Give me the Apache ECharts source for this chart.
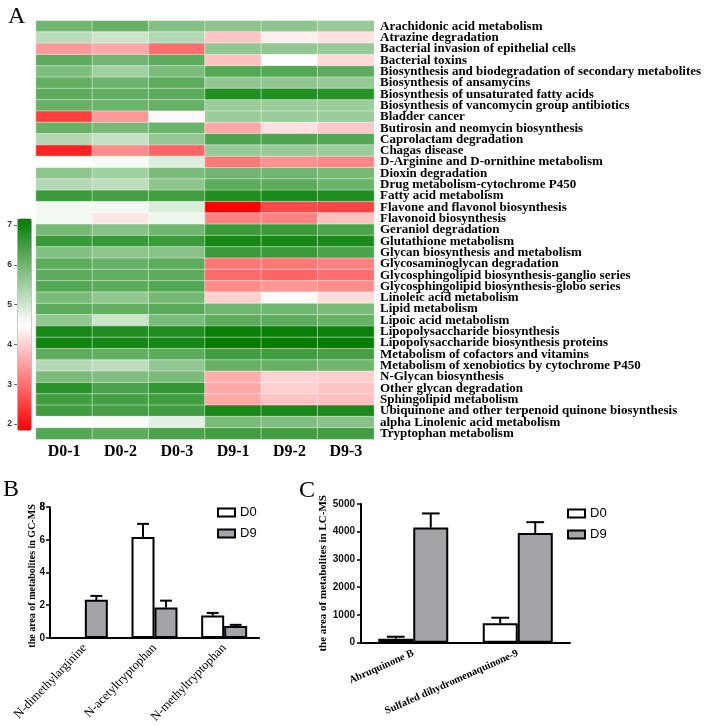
<!DOCTYPE html>
<html>
<head>
<meta charset="utf-8">
<script src="https://cdn.jsdelivr.net/npm/echarts@6/dist/echarts.min.js"></script>
<style>
html,body{margin:0;padding:0;background:#fff;}
#chart{width:709px;height:726px;}
</style>
</head>
<body>
<div id="chart"></div>
<script>
// ---------- Panel A data ----------
const samples = ['D0-1','D0-2','D0-3','D9-1','D9-2','D9-3'];
const pathways = [
 'Arachidonic acid metabolism','Atrazine degradation','Bacterial invasion of epithelial cells','Bacterial toxins',
 'Biosynthesis and biodegradation of secondary metabolites','Biosynthesis of ansamycins','Biosynthesis of unsaturated fatty acids',
 'Biosynthesis of vancomycin group antibiotics','Bladder cancer','Butirosin and neomycin biosynthesis','Caprolactam degradation',
 'Chagas disease','D-Arginine and D-ornithine metabolism','Dioxin degradation','Drug metabolism-cytochrome P450',
 'Fatty acid metabolism','Flavone and flavonol biosynthesis','Flavonoid biosynthesis','Geraniol degradation',
 'Glutathione metabolism','Glycan biosynthesis and metabolism','Glycosaminoglycan degradation',
 'Glycosphingolipid biosynthesis-ganglio series','Glycosphingolipid biosynthesis-globo series','Linoleic acid metabolism',
 'Lipid metabolism','Lipoic acid metabolism','Lipopolysaccharide biosynthesis','Lipopolysaccharide biosynthesis proteins',
 'Metabolism of cofactors and vitamins','Metabolism of xenobiotics by cytochrome P450','N-Glycan biosynthesis',
 'Other glycan degradation','Sphingolipid metabolism','Ubiquinone and other terpenoid quinone biosynthesis',
 'alpha Linolenic acid metabolism','Tryptophan metabolism'
];
const d0_1 = [6.0,5.25,3.45,6.2,5.85,6.15,6.2,6.1,2.5,6.1,5.3,2.2,4.5,5.7,5.3,6.55,4.65,4.65,5.95,6.6,5.8,6.2,6.2,6.3,5.9,6.2,5.65,6.95,7.0,6.2,5.3,5.9,6.75,6.5,6.5,4.5,6.3];
const d0_2 = [6.1,5.05,3.6,6.0,5.5,6.05,6.15,6.05,3.45,5.9,5.1,3.3,4.6,5.5,5.2,6.45,4.65,4.25,5.75,6.6,5.7,6.1,6.15,6.2,5.65,6.15,5.05,6.85,6.95,6.15,5.2,5.85,6.4,6.45,6.45,4.6,6.2];
const d0_3 = [5.8,5.3,3.0,6.2,5.9,6.2,6.2,6.1,4.45,6.05,5.65,2.9,4.85,5.9,5.7,6.5,4.9,4.7,6.0,6.55,5.75,6.2,6.2,6.3,5.95,6.25,5.9,6.85,6.95,6.2,5.65,5.9,6.65,6.5,6.5,4.8,6.4];
const d9_1 = [5.7,3.9,5.65,3.85,6.3,5.65,6.8,5.55,5.55,3.6,6.35,5.6,3.1,6.0,6.2,6.85,1.85,3.2,6.55,6.95,6.55,3.1,2.95,3.3,4.0,6.0,6.2,7.1,7.17,6.5,6.1,3.65,3.6,3.6,6.95,5.9,6.5];
const d9_2 = [5.7,4.35,5.65,4.5,6.3,5.65,6.8,5.55,5.55,4.2,6.35,5.6,3.35,6.0,6.2,6.9,2.6,3.2,6.55,6.95,6.55,3.1,2.9,3.4,4.45,6.0,6.2,7.1,7.17,6.5,6.1,4.05,4.0,3.9,6.95,5.85,6.5];
const d9_3 = [5.6,4.2,5.6,4.1,6.2,5.6,6.75,5.55,5.55,3.95,6.3,5.55,3.25,5.95,6.05,6.85,2.55,3.85,6.4,6.9,6.4,3.2,3.0,3.3,4.15,5.9,6.1,7.05,7.15,6.45,6.0,4.0,3.9,3.85,6.9,5.75,6.5];
const colorMin = 1.85, colorMax = 7.17;
const colorTicks = [2,3,4,5,6,7];

// ---------- Panel B data ----------
const gcCats = ['N-dimethylarginine','N-acetyltryptophan','N-methyltryptophan'];
const gcD0 = [0, 6.18, 1.37];
const gcD0Err = [0, 0.80, 0.16];
const gcD9 = [2.33, 1.86, 0.73];
const gcD9Err = [0.24, 0.42, 0.07];
const gcTicks = [0, 2, 4, 6, 8];
const gcTopTick = [8];
const gcTitle = 'the area of metabolites in GC-MS';

// ---------- Panel C data ----------
const lcCats = ['Abruquinone B','Sulfafed dihydromenaquinone-9'];
const lcD0 = [145, 700];
const lcD0Err = [70, 200];
const lcD9 = [4150, 3955];
const lcD9Err = [510, 390];
const lcTitle = 'the area of metabolites in LC-MS';

// ---------- build ----------
const cols = [d0_1,d0_2,d0_3,d9_1,d9_2,d9_3];
const heatData = [];
cols.forEach((col, xi) => col.forEach((v, yi) => heatData.push([xi, yi, v])));

function errData(vals, errs, side){
  const out = [];
  vals.forEach((v,i)=>{ if (v > 0) out.push([i, v, errs[i], side]); });
  return out;
}
function errRender(frac, capFrac){
  return function(params, api){
    const cat = api.value(0), val = api.value(1), err = api.value(2), side = api.value(3);
    const band = api.size([1,0])[0];
    const base = api.coord([cat, val]);
    const top = api.coord([cat, val + err]);
    const x = base[0] + side * band * frac;
    const cap = band * capFrac / 2;
    const st = {stroke:'#000', lineWidth:2};
    return {type:'group', children:[
      {type:'line', shape:{x1:x, y1:base[1], x2:x, y2:top[1]}, style:st},
      {type:'line', shape:{x1:x-cap, y1:top[1], x2:x+cap, y2:top[1]}, style:st}
    ]};
  };
}

const SERIF = '"Liberation Serif","Times New Roman",serif';
const SANS = '"Liberation Sans",Arial,sans-serif';
const D9GREY = '#a4a4a8';

const chart = echarts.init(document.getElementById('chart'), null, {renderer:'canvas'});
chart.setOption({
  backgroundColor:'#fff',
  animation:false,
  title:[
    {text:'A', left:3, top:0, textStyle:{fontFamily:SERIF, fontWeight:'normal', fontSize:24, color:'#000'}},
    {text:'B', left:3, top:478, padding:0, textStyle:{fontFamily:SERIF, fontWeight:'normal', fontSize:24, color:'#000'}},
    {text:'C', left:294, top:474, textStyle:{fontFamily:SERIF, fontWeight:'normal', fontSize:24, color:'#000'}}
  ],
  graphic:[
    {type:'text', x:32, y:576, rotation:Math.PI/2,
     style:{text:gcTitle, textAlign:'center', textVerticalAlign:'middle',
            font:'bold 10px "Liberation Serif","Times New Roman",serif', fill:'#000'}}
  ],
  grid:[
    {left:36, top:20.7, width:338, height:418.5},
    {left:17, top:218.3, width:14, height:211.7},
    {left:50, top:507.2, width:209, height:137.1},
    {left:361, top:504, width:209, height:138.7}
  ],
  visualMap:{
    type:'continuous', min:colorMin, max:colorMax, seriesIndex:0, calculable:false,
    orient:'vertical', left:17, top:218.3, itemWidth:14, itemHeight:211.7, padding:0,
    text:null, showLabel:false, hoverLink:false,
    borderColor:'#bbb', borderWidth:1,
    inRange:{color:['#ff0000','#ffffff','#007d00']}
  },
  legend:[
    {data:['D0','D9'], orient:'vertical', left:212, top:501, itemWidth:17, itemHeight:8, itemGap:8, icon:'rect',
     textStyle:{fontFamily:SANS, fontSize:13, color:'#000'}, selectedMode:false,
     itemStyle:{borderColor:'#000', borderWidth:2}},
    {data:['D0 ','D9 '], orient:'vertical', left:562, top:502, itemWidth:17, itemHeight:8, itemGap:8, icon:'rect',
     textStyle:{fontFamily:SANS, fontSize:13, color:'#000'}, selectedMode:false,
     itemStyle:{borderColor:'#000', borderWidth:2}}
  ],
  xAxis:[
    {gridIndex:0, type:'category', data:samples, position:'bottom',
     axisLine:{show:false}, axisTick:{show:false},
     axisLabel:{fontFamily:SERIF, fontWeight:'bold', fontSize:16, color:'#000', margin:5}},
    {gridIndex:1, type:'value', show:false},
    {gridIndex:2, type:'category', data:gcCats,
     axisLine:{lineStyle:{color:'#000', width:2}},
     axisTick:{alignWithLabel:true, length:4, lineStyle:{color:'#000', width:1.5}},
     axisLabel:{rotate:46, fontFamily:SERIF, fontSize:12.5, color:'#000', margin:8, interval:0}},
    {gridIndex:3, type:'category', data:lcCats,
     axisLine:{lineStyle:{color:'#000', width:2}},
     axisTick:{alignWithLabel:true, length:4, lineStyle:{color:'#000', width:1.5}},
     axisLabel:{rotate:24, fontFamily:SERIF, fontWeight:'bold', fontSize:10.5, color:'#000', margin:10, interval:0}}
  ],
  yAxis:[
    {gridIndex:0, type:'category', data:pathways, inverse:true, position:'right',
     axisLine:{show:false}, axisTick:{show:false},
     axisLabel:{fontFamily:SERIF, fontWeight:'bold', fontSize:13, color:'#000', margin:6, interval:0}},
    {gridIndex:1, type:'value', min:colorMin, max:colorMax, position:'left',
     axisLine:{show:false}, splitLine:{show:false},
     axisTick:{show:true, length:3, customValues:colorTicks, lineStyle:{color:'#666'}},
     axisLabel:{customValues:colorTicks, fontFamily:SANS, fontWeight:'bold', fontSize:8.5, color:'#333', margin:5}},
    {gridIndex:2, type:'value', min:0, max:8, interval:2, position:'left',
     axisLine:{show:true, lineStyle:{color:'#000', width:2}}, splitLine:{show:false},
     axisTick:{show:true, length:4, customValues:gcTicks, lineStyle:{color:'#000', width:1.5}},
     axisLabel:{customValues:gcTicks, showMaxLabel:true, fontFamily:SANS, fontWeight:'bold', fontSize:10, color:'#111', margin:5}},
    {gridIndex:3, type:'value', min:0, max:5000, interval:1000,
     axisLine:{show:true, lineStyle:{color:'#000', width:2}}, splitLine:{show:false},
     axisTick:{show:true, length:4, lineStyle:{color:'#000', width:1.5}},
     axisLabel:{fontFamily:SANS, fontWeight:'bold', fontSize:10, color:'#111', margin:6, showMaxLabel:true,
                formatter:function(v){ return String(v); }},
     name:lcTitle, nameLocation:'middle', nameGap:30,
     nameTextStyle:{fontFamily:SERIF, fontWeight:'bold', fontSize:11, color:'#000'}},
    {gridIndex:2, type:'value', min:0, max:8, position:'left', offset:0,
     axisLine:{show:false}, splitLine:{show:false},
     axisTick:{show:true, length:4, customValues:gcTopTick, lineStyle:{color:'#000', width:1.5}},
     axisLabel:{customValues:gcTopTick, showMaxLabel:true, fontFamily:SANS, fontWeight:'bold', fontSize:10, color:'#111', margin:5}}
  ],
  series:[
    {type:'heatmap', xAxisIndex:0, yAxisIndex:0, data:heatData,
     itemStyle:{borderColor:'rgba(255,255,255,0.45)', borderWidth:1},
     emphasis:{disabled:true}},
    {name:'D0', type:'bar', xAxisIndex:2, yAxisIndex:2, data:gcD0, barGap:'0%', barCategoryGap:'34%',
     itemStyle:{color:'#fff', borderColor:'#000', borderWidth:2}},
    {name:'D9', type:'bar', xAxisIndex:2, yAxisIndex:2, data:gcD9, barGap:'0%', barCategoryGap:'34%',
     itemStyle:{color:D9GREY, borderColor:'#000', borderWidth:2}},
    {type:'custom', xAxisIndex:2, yAxisIndex:2, data:errData(gcD0, gcD0Err, -1).concat(errData(gcD9, gcD9Err, 1)),
     renderItem:errRender(0.165, 0.17), z:5},
    {name:'D0 ', type:'bar', xAxisIndex:3, yAxisIndex:3, data:lcD0, barGap:'0%', barCategoryGap:'33%',
     itemStyle:{color:'#fff', borderColor:'#000', borderWidth:2}},
    {name:'D9 ', type:'bar', xAxisIndex:3, yAxisIndex:3, data:lcD9, barGap:'0%', barCategoryGap:'33%',
     itemStyle:{color:D9GREY, borderColor:'#000', borderWidth:2}},
    {type:'custom', xAxisIndex:3, yAxisIndex:3, data:errData(lcD0, lcD0Err, -1).concat(errData(lcD9, lcD9Err, 1)),
     renderItem:errRender(0.1675, 0.17), z:5}
  ]
});
</script>
</body>
</html>
